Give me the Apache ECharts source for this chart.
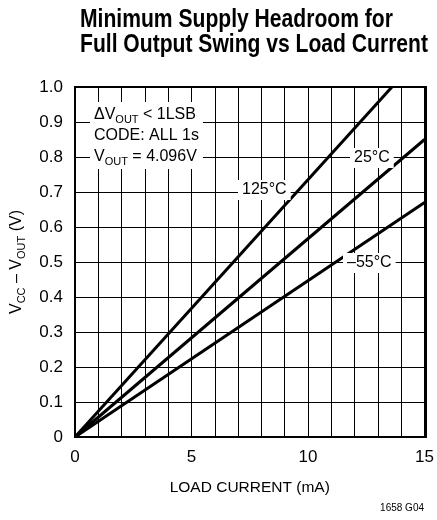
<!DOCTYPE html>
<html>
<head>
<meta charset="utf-8">
<script src="https://cdn.jsdelivr.net/npm/echarts@6/dist/echarts.min.js"></script>
<style>
  html, body { margin: 0; padding: 0; background: #fff; }
  #chart { width: 437px; height: 520px; }
</style>
</head>
<body>
<div id="chart"></div>
<script>
// load current (mA) and headroom (V)
var hot125 = [[0, 0], [13.6, 1.0]]
var room25 = [[0, 0], [15, 0.85]]
var cold55 = [[0, 0], [15, 0.67]]
var xTicks = [0, 5, 10, 15]
var titleLines = ['Minimum Supply Headroom for', 'Full Output Swing vs Load Current']

var FONT = '"Liberation Sans", Arial, sans-serif'
var sub = { fontSize: 11, fontFamily: FONT, verticalAlign: 'bottom', padding: [7, 0, 0, 0] }
var norm = { fontSize: 16, fontFamily: FONT, lineHeight: 21 }

var chart = echarts.init(document.getElementById('chart'))

// squeeze bold title to the condensed width of the original
var cv = document.createElement('canvas').getContext('2d')
cv.font = 'bold 25px ' + FONT
var squeeze = 348 / cv.measureText(titleLines[1]).width

function line(name, data) {
  return {
    name: name,
    type: 'line',
    data: data,
    symbol: 'none',
    lineStyle: { color: '#000', width: 3 },
    z: 3
  }
}

function tag(x, y, rich, text) {
  return {
    type: 'text',
    left: x,
    top: y,
    z: 100,
    style: {
      text: text,
      rich: rich,
      fill: '#000',
      fontSize: 16,
      fontFamily: FONT,
      backgroundColor: '#fff',
      padding: [2, 4, 2, 4]
    }
  }
}

function titleText(i, y) {
  return {
    type: 'text',
    x: 80,
    y: y,
    scaleX: squeeze,
    style: {
      text: titleLines[i],
      fontSize: 25,
      fontWeight: 'bold',
      fontFamily: FONT,
      fill: '#000',
      verticalAlign: 'middle'
    }
  }
}

var option = {
  animation: false,
  grid: { left: 75, right: 11, top: 87, bottom: 83 },
  xAxis: {
    type: 'value',
    min: 0,
    max: 15,
    interval: 1,
    name: 'LOAD CURRENT (mA)',
    nameLocation: 'middle',
    nameGap: 43,
    nameTextStyle: { fontSize: 15.5, fontFamily: FONT, color: '#000' },
    axisLine: { show: true, lineStyle: { color: '#000', width: 2 } },
    axisTick: { show: false },
    axisLabel: {
      fontSize: 17, fontFamily: FONT, color: '#000', margin: 12,
      formatter: function (v) { return xTicks.indexOf(v) >= 0 ? String(v) : '' }
    },
    splitLine: { show: true, lineStyle: { color: '#000', width: 1 } }
  },
  yAxis: {
    type: 'value',
    min: 0,
    max: 1,
    interval: 0.1,
    name: '{n|V}{s|CC}{n| – V}{s|OUT}{n| (V)}',
    nameLocation: 'middle',
    nameGap: 48,
    nameTextStyle: { color: '#000', rich: { n: norm, s: sub } },
    axisLine: { show: true, lineStyle: { color: '#000', width: 2 } },
    axisTick: { show: false },
    axisLabel: {
      fontSize: 17, fontFamily: FONT, color: '#000', margin: 12,
      formatter: function (v) { return v === 0 ? '0' : v.toFixed(1) }
    },
    splitLine: { show: true, lineStyle: { color: '#000', width: 1 } }
  },
  graphic: [
    titleText(0, 20),
    titleText(1, 45),
    {
      type: 'rect',
      shape: { x: 75, y: 87, width: 351, height: 350 },
      style: { fill: 'none', stroke: '#000', lineWidth: 2 },
      z: 50
    },
    tag(90, 102, { n: norm, s: sub },
      '{n|ΔV}{s|OUT}{n| < 1LSB}\n{n|CODE: ALL 1s}\n{n|V}{s|OUT}{n| = 4.096V}'),
    tag(238, 180, null, '125°C'),
    tag(350, 148, null, '25°C'),
    tag(343, 253, null, '–55°C'),
    {
      type: 'text',
      right: 13,
      top: 503,
      style: { text: '1658 G04', fontSize: 10, fontFamily: FONT, fill: '#000' }
    }
  ],
  series: [
    line('125°C', hot125),
    line('25°C', room25),
    line('-55°C', cold55)
  ]
}

chart.setOption(option)
</script>
</body>
</html>
